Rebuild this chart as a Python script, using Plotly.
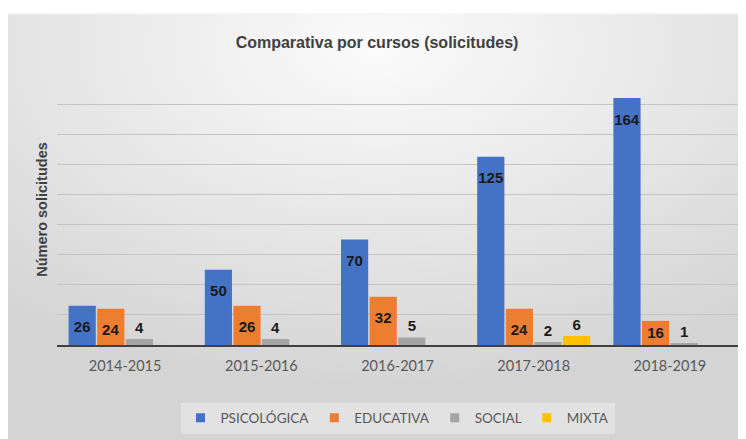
import base64
import plotly.graph_objects as go

cursos = ["2014-2015", "2015-2016", "2016-2017", "2017-2018", "2018-2019"]
psicologica = [26, 50, 70, 125, 164]
educativa = [24, 26, 32, 24, 16]
social = [4, 4, 5, 2, 1]
mixta = [0, 0, 0, 6, 0]

series = [
    ("PSICOLÓGICA", psicologica, "#4472C4"),
    ("EDUCATIVA", educativa, "#ED7D31"),
    ("SOCIAL", social, "#A5A5A5"),
    ("MIXTA", mixta, "#FFC000"),
]

# the page body has an 8px margin, so the figure is drawn from (8, 8)
W, H = 738, 431
ML, MR, MT, MB = 49, 8, 66, 94
PW, PH = W - ML - MR, H - MT - MB

SPACER = "<span style='font-size:4px;color:rgba(0,0,0,0)'>.</span><br>"


def label_text(v):
    if v == 0:
        return ""
    if v >= 20:
        return SPACER + str(v)
    return str(v)


def label_pos(v):
    return "inside" if v >= 12 else "outside"


fig = go.Figure()
for name, vals, color in series:
    fig.add_trace(go.Bar(
        name=name, x=cursos, y=vals,
        marker=dict(color=color, line=dict(width=0)),
        text=[label_text(v) for v in vals],
        textposition=[label_pos(v) for v in vals],
        insidetextanchor="end",
        constraintext="none",
        cliponaxis=False,
        textangle=0,
        textfont=dict(family="Liberation Sans", size=15, color="#1a1a1a", weight="bold"),
        hoverinfo="skip",
        showlegend=False,
    ))
    # legend entry with a small square symbol
    fig.add_trace(go.Scatter(
        name=name, x=[None], y=[None], mode="markers",
        marker=dict(symbol="square", size=9, color=color),
        hoverinfo="skip", showlegend=True,
    ))

svg = (
    "<svg xmlns='http://www.w3.org/2000/svg' width='738' height='426' viewBox='0 0 738 426' "
    "preserveAspectRatio='none'><defs><radialGradient id='g' cx='0.5' cy='0.08' r='0.8'>"
    "<stop offset='0' stop-color='#fbfbfb'/><stop offset='0.55' stop-color='#e6e6e6'/>"
    "<stop offset='1' stop-color='#d4d4d4'/></radialGradient></defs>"
    "<rect width='738' height='426' fill='url(#g)'/>"
    "<rect x='0' y='0' width='738' height='1.5' fill='#f4f4f4'/></svg>"
)
src = "data:image/svg+xml;base64," + base64.b64encode(svg.encode()).decode()

bg_left, bg_top = 0, 5
fig.add_layout_image(dict(
    source=src, xref="paper", yref="paper",
    x=(bg_left - ML) / PW, y=(H - MB - bg_top) / PH,
    sizex=(W - bg_left) / PW, sizey=(H - bg_top) / PH,
    xanchor="left", yanchor="top", sizing="stretch", layer="below",
))

fig.update_layout(
    width=W, height=H,
    margin=dict(l=ML, r=MR, t=MT, b=MB, autoexpand=False),
    paper_bgcolor="white", plot_bgcolor="rgba(0,0,0,0)",
    barmode="group", bargap=0.16, bargroupgap=0.05,
    title=dict(text="<b>Comparativa por cursos (solicitudes)</b>", x=0.5, xanchor="center",
               y=1 - 34 / H, yanchor="middle",
               font=dict(family="Liberation Sans", size=16, color="#404040")),
    showlegend=True,
    legend=dict(orientation="h", x=0.5, xanchor="center", y=(H - MB - 410) / PH, yanchor="middle",
                font=dict(family="Lato", size=13.5, color="#595959"),
                bgcolor="rgba(245,245,245,0.45)", itemwidth=30, traceorder="normal"),
    xaxis=dict(showline=True, linecolor="#404040", linewidth=2, ticks="",
               tickfont=dict(family="Lato", size=14.5, color="#595959"),
               ticklabelstandoff=7, showgrid=False, fixedrange=True),
    yaxis=dict(range=[0, 180], dtick=20, showgrid=True, gridcolor="#c4c4c4", gridwidth=1,
               showticklabels=False, zeroline=False, showline=False, ticks="",
               title=dict(text="<b>Número solicitudes</b>", standoff=4,
                          font=dict(family="Liberation Sans", size=14.5, color="#404040")),
               fixedrange=True),
)

fig.write_html("out.html")
